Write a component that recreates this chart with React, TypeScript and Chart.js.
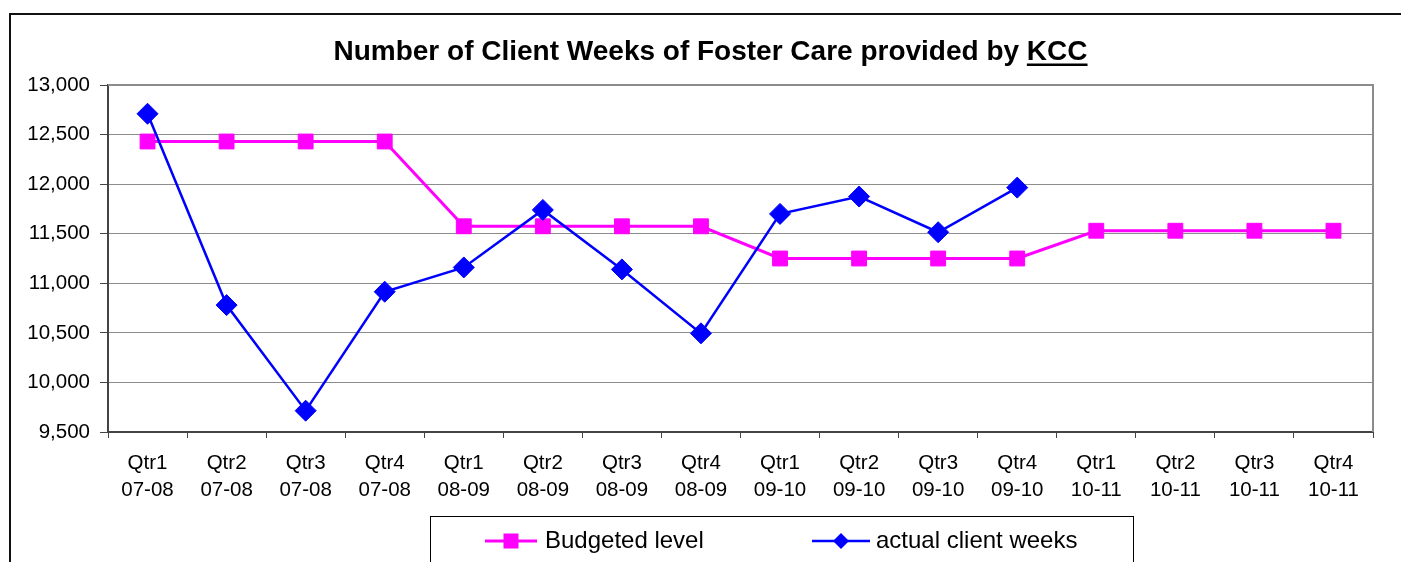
import React, { useEffect, useRef } from 'react';
import { Chart, registerables } from 'chart.js';

Chart.register(...registerables);

const categories: string[][] = [
  ['Qtr1', '07-08'], ['Qtr2', '07-08'], ['Qtr3', '07-08'], ['Qtr4', '07-08'],
  ['Qtr1', '08-09'], ['Qtr2', '08-09'], ['Qtr3', '08-09'], ['Qtr4', '08-09'],
  ['Qtr1', '09-10'], ['Qtr2', '09-10'], ['Qtr3', '09-10'], ['Qtr4', '09-10'],
  ['Qtr1', '10-11'], ['Qtr2', '10-11'], ['Qtr3', '10-11'], ['Qtr4', '10-11'],
];

const budgetedLevel: number[] = [
  12430, 12430, 12430, 12430,
  11575, 11575, 11575, 11575,
  11250, 11250, 11250, 11250,
  11530, 11530, 11530, 11530,
];

const actualClientWeeks: (number | null)[] = [
  12710, 10780, 9715, 10915,
  11160, 11740, 11140, 10495,
  11700, 11875, 11515, 11965,
  null, null, null, null,
];

const seriesLabels: string[] = ['Budgeted level', 'actual client weeks'];
const yMin = 9500;
const yMax = 13000;
const yStep = 500;
const titleMain = 'Number of Client Weeks of Foster Care provided by ';
const titleUnderlined = 'KCC';

const FONT = '"Liberation Sans", Arial, Helvetica, sans-serif';

const decor = {
  id: 'decor',
  beforeDraw(chart: any) {
    const ctx = chart.ctx;
    ctx.save();
    ctx.fillStyle = '#ffffff';
    ctx.fillRect(0, 0, chart.width, chart.height);
    ctx.restore();
  },
  beforeDatasetsDraw(chart: any) {
    const { ctx, chartArea: a } = chart;
    ctx.save();
    ctx.strokeStyle = '#8c8c8c';
    ctx.lineWidth = 2;
    ctx.beginPath();
    ctx.moveTo(a.left, a.top);
    ctx.lineTo(a.right, a.top);
    ctx.lineTo(a.right, a.bottom);
    ctx.stroke();
    ctx.restore();
  },
  afterDraw(chart: any) {
    const ctx = chart.ctx;
    ctx.save();
    // outer frame
    ctx.strokeStyle = '#111';
    ctx.lineWidth = 2;
    ctx.beginPath();
    ctx.moveTo(10, chart.height);
    ctx.lineTo(10, 14);
    ctx.lineTo(chart.width, 14);
    ctx.stroke();

    // title
    ctx.fillStyle = '#000';
    ctx.font = `bold 28px ${FONT}`;
    ctx.textBaseline = 'alphabetic';
    ctx.textAlign = 'left';
    const wMain = ctx.measureText(titleMain).width;
    const wU = ctx.measureText(titleUnderlined).width;
    const cx = 710.5;
    const x0 = cx - (wMain + wU) / 2;
    ctx.fillText(titleMain, x0, 60);
    ctx.fillText(titleUnderlined, x0 + wMain, 60);
    ctx.fillRect(x0 + wMain, 63.5, wU, 2.5);

    // legend box
    ctx.strokeStyle = '#000';
    ctx.lineWidth = 1;
    ctx.strokeRect(430.5, 516.5, 703, 80);

    const items = [
      { x1: 485, x2: 537, mx: 511, tx: 545 },
      { x1: 812, x2: 870, mx: 841, tx: 876 },
    ];
    const ly = 541;
    chart.data.datasets.forEach((ds: any, i: number) => {
      const it = items[i];
      ctx.strokeStyle = ds.borderColor;
      ctx.lineWidth = ds.borderWidth;
      ctx.beginPath();
      ctx.moveTo(it.x1, ly);
      ctx.lineTo(it.x2, ly);
      ctx.stroke();
      ctx.fillStyle = ds.backgroundColor;
      ctx.beginPath();
      if (ds.pointStyle === 'rect') {
        ctx.rect(it.mx - 7.5, ly - 7.5, 15, 15);
      } else {
        ctx.moveTo(it.mx, ly - 8);
        ctx.lineTo(it.mx + 8, ly);
        ctx.lineTo(it.mx, ly + 8);
        ctx.lineTo(it.mx - 8, ly);
        ctx.closePath();
      }
      ctx.fill();
      ctx.fillStyle = '#000';
      ctx.font = `24px ${FONT}`;
      ctx.textBaseline = 'middle';
      ctx.fillText(ds.label, it.tx, ly);
    });
    ctx.restore();
  },
};

export default function App() {
  const ref = useRef<HTMLCanvasElement | null>(null);

  useEffect(() => {
    if (!ref.current) return;
    const chart = new Chart(ref.current, {
      type: 'line',
      data: {
        labels: categories,
        datasets: [
          {
            label: seriesLabels[0],
            data: budgetedLevel,
            borderColor: '#FF00FF',
            backgroundColor: '#FF00FF',
            borderWidth: 3,
            pointStyle: 'rect',
            pointRadius: 10.5,
            pointHoverRadius: 10.5,
            pointBorderWidth: 1,
            tension: 0,
            order: 1,
          },
          {
            label: seriesLabels[1],
            data: actualClientWeeks,
            borderColor: '#0000FF',
            backgroundColor: '#0000FF',
            borderWidth: 2.5,
            pointStyle: 'rectRot',
            pointRadius: 10.5,
            pointHoverRadius: 10.5,
            pointBorderWidth: 1,
            tension: 0,
            spanGaps: false,
            order: 0,
          },
        ],
      },
      options: {
        responsive: false,
        animation: false,
        devicePixelRatio: 1,
        clip: false,
        layout: { padding: { left: 10, right: 28, top: 85, bottom: 60 } },
        plugins: {
          legend: { display: false },
          title: { display: false },
          tooltip: { enabled: false },
        },
        scales: {
          x: {
            type: 'category',
            offset: true,
            grid: {
              offset: true,
              drawOnChartArea: false,
              drawTicks: true,
              tickLength: 6,
              color: '#444',
              tickColor: '#444',
              lineWidth: 1,
            },
            border: { display: true, color: '#444', width: 2 },
            ticks: {
              color: '#000',
              font: { family: FONT, size: 20.5, lineHeight: 1.32 },
              padding: 12,
              maxRotation: 0,
              autoSkip: false,
            },
            afterFit: (s: any) => { s.height = 70; },
          },
          y: {
            min: yMin,
            max: yMax,
            ticks: {
              stepSize: yStep,
              color: '#000',
              font: { family: FONT, size: 20.5 },
              padding: 10,
              callback: (v: any) => Number(v).toLocaleString('en-US'),
            },
            grid: { color: '#8c8c8c', lineWidth: 1, tickLength: 8, tickColor: '#444' },
            border: { display: true, color: '#444', width: 2 },
            afterFit: (s: any) => { s.width = 98; },
          },
        },
      },
      plugins: [decor],
    } as any);
    return () => chart.destroy();
  }, []);

  return (
    <canvas
      ref={ref}
      width={1401}
      height={562}
      style={{ position: 'fixed', left: 0, top: 0, width: 1401, height: 562, display: 'block' }}
    />
  );
}
